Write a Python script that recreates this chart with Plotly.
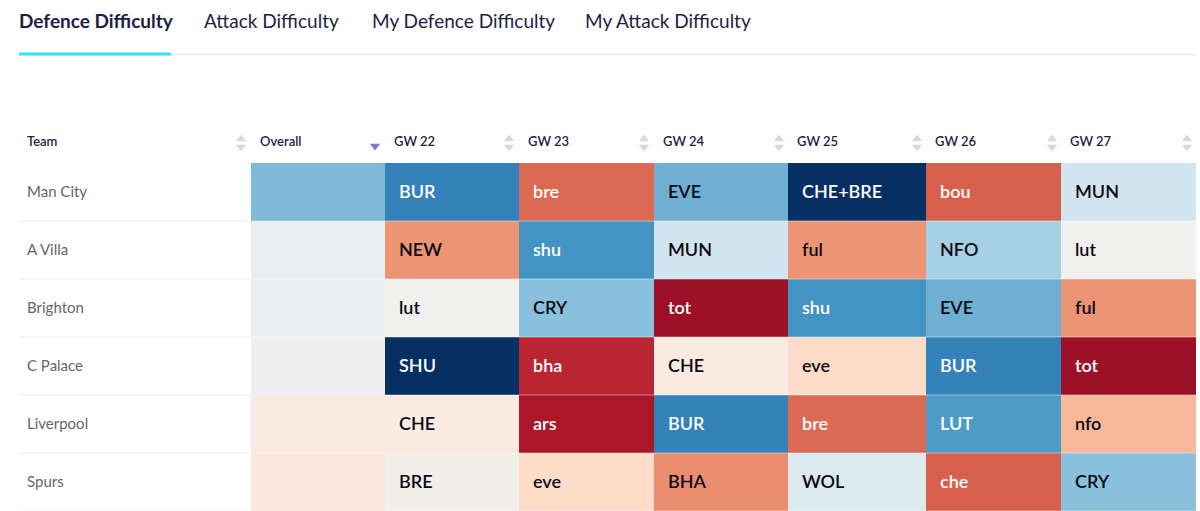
import plotly.graph_objects as go

TABS = ["Defence Difficulty", "Attack Difficulty", "My Defence Difficulty", "My Attack Difficulty"]
TEAMS = ["Man City", "A Villa", "Brighton", "C Palace", "Liverpool", "Spurs"]
COLUMNS = ["Overall", "GW 22", "GW 23", "GW 24", "GW 25", "GW 26", "GW 27"]

FIXTURES = [
    ["", "BUR", "bre", "EVE", "CHE+BRE", "bou", "MUN"],
    ["", "NEW", "shu", "MUN", "ful", "NFO", "lut"],
    ["", "lut", "CRY", "tot", "shu", "EVE", "ful"],
    ["", "SHU", "bha", "CHE", "eve", "BUR", "tot"],
    ["", "CHE", "ars", "BUR", "bre", "LUT", "nfo"],
    ["", "BRE", "eve", "BHA", "WOL", "che", "CRY"],
]

# difficulty, -1 (easy, blue) to 1 (hard, red)
DIFFICULTY = [
    [-0.45, -0.68, 0.57, -0.49, -1.0, 0.60, -0.20],
    [-0.04, 0.45, -0.60, -0.20, 0.45, -0.33, 0.00],
    [-0.03, 0.00, -0.42, 0.86, -0.60, -0.49, 0.45],
    [-0.01, -1.0, 0.76, 0.10, 0.19, -0.68, 0.86],
    [0.10, 0.10, 0.82, -0.68, 0.57, -0.57, 0.33],
    [0.12, 0.02, 0.19, 0.47, -0.13, 0.60, -0.42],
]

# page layout in pixels
WIDTH, HEIGHT = 1200, 511
COLUMN_EDGES = [251, 385, 519, 654, 788, 926, 1061, 1196]
ROW_EDGES = [163, 221, 279, 337, 395, 453, 511]
TAB_X = [17, 202, 370, 583]
SORT_X = [241, 509, 644, 779, 917, 1052, 1187]

COLORSCALE = [
    [0.0, "#053061"], [0.1, "#2166ac"], [0.2, "#4393c3"], [0.3, "#92c5de"],
    [0.4, "#d1e5f0"], [0.5, "#f0f0ee"], [0.55, "#fbeae1"], [0.6, "#fddbc7"],
    [0.7, "#f4a582"], [0.8, "#d6604d"], [0.9, "#b2182b"], [1.0, "#67001f"],
]
FONT = "Lato"
INK = "#1f1d45"

fig = go.Figure()
fig.add_trace(
    go.Heatmap(
        x=COLUMN_EDGES,
        y=ROW_EDGES,
        z=DIFFICULTY,
        zmin=-1,
        zmax=1,
        colorscale=COLORSCALE,
        showscale=False,
        hoverinfo="skip",
    )
)

# sort arrows in the header row, the Overall column is the active sort
fig.add_trace(
    go.Scatter(
        x=SORT_X + SORT_X,
        y=[139] * 7 + [147] * 7,
        mode="markers",
        marker={"symbol": ["triangle-up"] * 7 + ["triangle-down"] * 7, "size": 9, "color": "#d9d9d9"},
        hoverinfo="skip",
    )
)
fig.add_trace(
    go.Scatter(
        x=[375],
        y=[146],
        mode="markers",
        marker={"symbol": "triangle-down", "size": 9, "color": "#7b78d6"},
        hoverinfo="skip",
    )
)


def label(x, y, text, size, color, weight=400):
    fig.add_annotation(
        x=x,
        y=y,
        text=text,
        showarrow=False,
        xanchor="left",
        yanchor="middle",
        font={"family": FONT, "size": size, "color": color, "weight": weight},
    )


for i, tab in enumerate(TABS):
    label(TAB_X[i], 20, tab, 19, INK, weight=700 if i == 0 else 400)

label(25, 141, "Team", 13, INK, weight=600)
for i, column in enumerate(COLUMNS):
    label(COLUMN_EDGES[i] + 7, 141, column, 13, INK, weight=600)

for r, team in enumerate(TEAMS):
    y = (ROW_EDGES[r] + ROW_EDGES[r + 1]) / 2 - 1
    label(25, y, team, 15, "#666666")
    for c, fixture in enumerate(FIXTURES[r]):
        if fixture:
            color = "#ffffff" if abs(DIFFICULTY[r][c]) > 0.55 else "#0b0b14"
            label(COLUMN_EDGES[c] + 12, y, fixture, 18, color, weight=600)

# tab rule and active underline
fig.add_shape(type="line", x0=19, x1=1196, y0=54.5, y1=54.5, line={"color": "#eeeeee", "width": 2})
fig.add_shape(type="line", x0=19, x1=171, y0=54, y1=54, line={"color": "#2fe6f2", "width": 3})

# row separators
for edge in ROW_EDGES[1:]:
    fig.add_shape(type="line", x0=19, x1=251, y0=edge, y1=edge, line={"color": "#eeeeee", "width": 1})
    fig.add_shape(
        type="line", x0=251, x1=1196, y0=edge, y1=edge, line={"color": "rgba(255,255,255,0.45)", "width": 1}
    )

fig.update_layout(
    width=WIDTH,
    height=HEIGHT,
    margin={"l": 0, "r": 0, "t": 0, "b": 0},
    paper_bgcolor="#ffffff",
    plot_bgcolor="#ffffff",
    showlegend=False,
    xaxis={"range": [0, WIDTH], "visible": False, "fixedrange": True},
    yaxis={"range": [HEIGHT, 0], "visible": False, "fixedrange": True},
)

fig.write_html(
    "out.html",
    config={"displayModeBar": False},
    post_script="document.body.style.margin = '0'; document.body.style.overflow = 'hidden';",
)
